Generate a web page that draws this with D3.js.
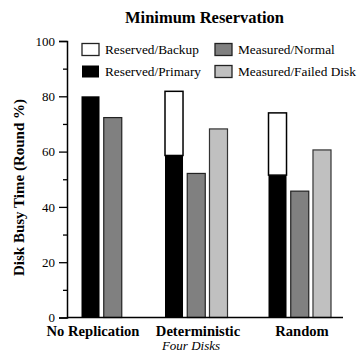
<!DOCTYPE html>
<html>
<head>
<meta charset="utf-8">
<script src="https://cdn.jsdelivr.net/npm/d3@7"></script>
<style>
  body { margin: 0; background: #fff; }
  svg { display: block; }
  text { font-family: "Liberation Serif", "Times New Roman", serif; }
</style>
</head>
<body>
<svg id="chart" width="362" height="356"></svg>
<script>
// Disk busy time under minimum reservation, four disks
const categories = ["No Replication", "Deterministic", "Random"];
const reservedPrimary = [80, 58.6, 51.5];
const reservedBackup = [0, 23.2, 22.5];
const measuredNormal = [72.3, 52.1, 45.7];
const measuredFailed = [null, 68.2, 60.6];
const yTicks = [0, 20, 40, 60, 80, 100];
const yMinorTicks = [10, 30, 50, 70, 90];
const legendItems = ["Reserved/Backup", "Measured/Normal", "Reserved/Primary", "Measured/Failed Disk"];

const colors = {
  "Reserved/Backup": "#ffffff",
  "Reserved/Primary": "#000000",
  "Measured/Normal": "#808080",
  "Measured/Failed Disk": "#c0c0c0"
};

const svg = d3.select("#chart");
const margin = { left: 67, right: 343, top: 41, bottom: 317.5 };

const y = d3.scaleLinear().domain([0, 100]).range([margin.bottom, margin.top]);

// left edge of each group's first bar, and label centre under each group
const groupX = d3.scaleOrdinal().domain(categories).range([81.5, 165, 268.5]);
const labelX = d3.scaleOrdinal().domain(categories).range([93, 198, 302]);
const slot = d3.scaleBand().domain(["reserved", "normal", "failed"]).range([0, 62.5]).paddingInner(0.19).paddingOuter(0);
const bw = slot.bandwidth();

const g = svg.append("g");

categories.forEach((c, i) => {
  const x0 = groupX(c);
  // stacked reserved bar: primary then backup
  g.append("rect")
    .attr("x", x0 + slot("reserved")).attr("width", bw)
    .attr("y", y(reservedPrimary[i])).attr("height", y(0) - y(reservedPrimary[i]))
    .attr("fill", colors["Reserved/Primary"]);
  if (reservedBackup[i] > 0) {
    const top = reservedPrimary[i] + reservedBackup[i];
    g.append("rect")
      .attr("x", x0 + slot("reserved")).attr("width", bw)
      .attr("y", y(top)).attr("height", y(reservedPrimary[i]) - y(top))
      .attr("fill", colors["Reserved/Backup"])
      .attr("stroke", "#000").attr("stroke-width", 1.5);
  }
  g.append("rect")
    .attr("x", x0 + slot("normal")).attr("width", bw)
    .attr("y", y(measuredNormal[i])).attr("height", y(0) - y(measuredNormal[i]))
    .attr("fill", colors["Measured/Normal"])
    .attr("stroke", "#222").attr("stroke-width", 1.2);
  if (measuredFailed[i] != null) {
    g.append("rect")
      .attr("x", x0 + slot("failed")).attr("width", bw)
      .attr("y", y(measuredFailed[i])).attr("height", y(0) - y(measuredFailed[i]))
      .attr("fill", colors["Measured/Failed Disk"])
      .attr("stroke", "#333").attr("stroke-width", 1.2);
  }
});

// Y axis with major and minor ticks
const yAxis = svg.append("g").attr("transform", `translate(${margin.left},0)`)
  .call(d3.axisLeft(y).tickValues(yTicks).tickSize(8).tickPadding(4));
yAxis.select(".domain").attr("stroke", "#000").attr("stroke-width", 1.5);
yAxis.selectAll(".tick line").attr("stroke", "#000").attr("stroke-width", 1.3);
yAxis.selectAll(".tick text")
  .attr("font-size", 13).attr("fill", "#000");

const yMinor = svg.append("g").attr("transform", `translate(${margin.left},0)`)
  .call(d3.axisLeft(y).tickValues(yMinorTicks).tickSize(4).tickFormat(""));
yMinor.select(".domain").remove();
yMinor.selectAll(".tick line").attr("stroke", "#000").attr("stroke-width", 1.3);

// X baseline
svg.append("line")
  .attr("x1", margin.left).attr("x2", margin.right)
  .attr("y1", y(0)).attr("y2", y(0))
  .attr("stroke", "#000").attr("stroke-width", 1.5);

// Category labels
svg.selectAll(".cat").data(categories).join("text")
  .attr("class", "cat")
  .attr("x", d => labelX(d)).attr("y", 336)
  .attr("text-anchor", "middle")
  .attr("font-weight", "bold").attr("font-size", 14.6)
  .text(d => d);

svg.append("text")
  .attr("x", 191).attr("y", 350)
  .attr("text-anchor", "middle")
  .attr("font-style", "italic").attr("font-size", 13)
  .text("Four Disks");

// Title
svg.append("text")
  .attr("x", 204.5).attr("y", 22.5)
  .attr("text-anchor", "middle")
  .attr("font-weight", "bold").attr("font-size", 16.5)
  .text("Minimum Reservation");

// Y axis title
svg.append("text")
  .attr("transform", "translate(23.5,187.5) rotate(-90)")
  .attr("text-anchor", "middle")
  .attr("font-weight", "bold").attr("font-size", 15)
  .text("Disk Busy Time (Round %)");

// Legend, two columns
const legendCol = d3.scaleOrdinal().domain([0, 1]).range([82, 215]);
const legendRow = d3.scaleOrdinal().domain([0, 1]).range([43.5, 65.5]);
const legend = svg.append("g");
legendItems.forEach((name, i) => {
  const col = i % 2, row = Math.floor(i / 2);
  const lx = legendCol(col), ly = legendRow(row);
  legend.append("rect")
    .attr("x", lx).attr("y", ly).attr("width", 17).attr("height", 12)
    .attr("fill", colors[name])
    .attr("stroke", name === "Reserved/Primary" ? "none" : "#222")
    .attr("stroke-width", 1.3);
  legend.append("text")
    .attr("x", lx + 23).attr("y", ly + 10.5)
    .attr("font-size", 13.3)
    .text(name);
});
</script>
</body>
</html>
